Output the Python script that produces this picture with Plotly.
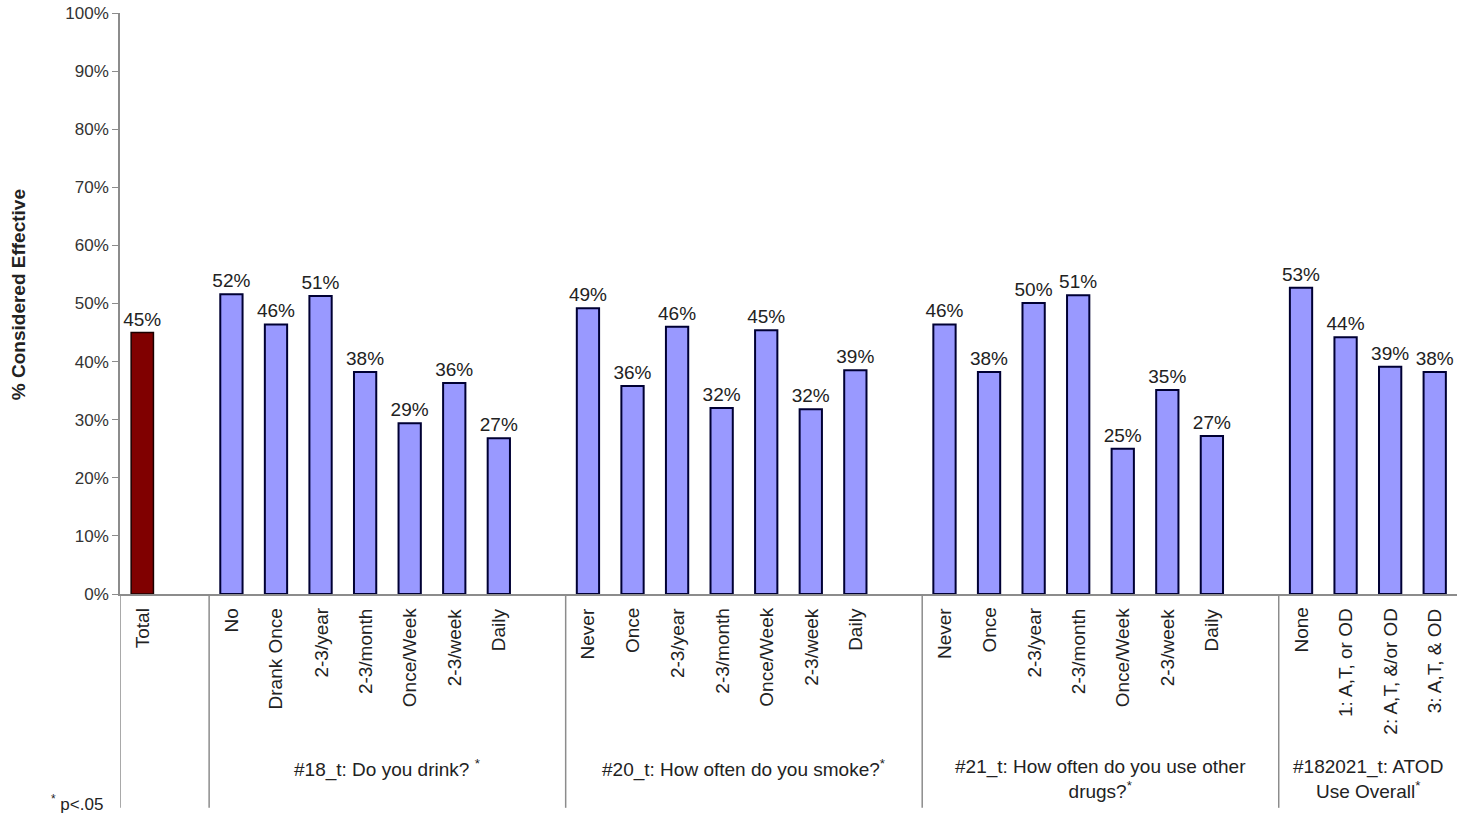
import plotly.graph_objects as go

# ---- data ----
total_label = ["Total"]
total_value = [45.0]

drink_cats = ["No", "Drank Once", "2-3/year", "2-3/month", "Once/Week", "2-3/week", "Daily"]
drink_vals = [51.6, 46.4, 51.3, 38.2, 29.4, 36.3, 26.8]

smoke_cats = ["Never", "Once", "2-3/year", "2-3/month", "Once/Week", "2-3/week", "Daily"]
smoke_vals = [49.2, 35.8, 46.0, 32.0, 45.4, 31.8, 38.5]

drugs_cats = ["Never", "Once", "2-3/year", "2-3/month", "Once/Week", "2-3/week", "Daily"]
drugs_vals = [46.4, 38.2, 50.1, 51.4, 25.0, 35.1, 27.2]

atod_cats = ["None", "1: A,T, or OD", "2: A,T, &/or OD", "3: A,T, & OD"]
atod_vals = [52.7, 44.2, 39.1, 38.2]

group_titles = [
    "#18_t: Do you drink? <sup>*</sup>",
    "#20_t: How often do you smoke?<sup>*</sup>",
    "#21_t: How often do you use other<br>drugs?<sup>*</sup>",
    "#182021_t: ATOD<br>Use Overall<sup>*</sup>",
]

y_ticks = list(range(0, 101, 10))
y_tick_text = [f"{v}%" for v in y_ticks]

# ---- layout of slots (one empty slot after each group) ----
groups = [(drink_cats, drink_vals), (smoke_cats, smoke_vals),
          (drugs_cats, drugs_vals), (atod_cats, atod_vals)]

FONT = "Liberation Sans, Arial, sans-serif"
TXT = "#222222"

total_x = [0]
pos = 2
group_x = []
boundaries = [-0.5, 1.5]
for cats, vals in groups:
    xs = list(range(pos, pos + len(cats)))
    group_x.append(xs)
    pos += len(cats) + 1
    boundaries.append(pos - 0.5)
boundaries[-1] = boundaries[-1] - 1  # last group has no trailing gap
n_slots = pos - 1

fig = go.Figure()

fig.add_trace(go.Bar(
    x=total_x, y=total_value, width=0.5,
    marker=dict(color="#800000", line=dict(color="#1a0000", width=1.5)),
    texttemplate="%{y:.0f}%", textposition="outside", cliponaxis=False,
    constraintext="none",
    textfont=dict(family=FONT, size=19, color=TXT),
    showlegend=False, hoverinfo="skip",
))

all_x, all_y = [], []
for (cats, vals), xs in zip(groups, group_x):
    all_x += xs
    all_y += vals

fig.add_trace(go.Bar(
    x=all_x, y=all_y, width=0.5,
    marker=dict(color="#9999FF", line=dict(color="#000033", width=2)),
    texttemplate="%{y:.0f}%", textposition="outside", cliponaxis=False,
    constraintext="none",
    textfont=dict(family=FONT, size=19, color=TXT),
    showlegend=False, hoverinfo="skip",
))

annotations = []
# category labels
cat_pairs = [(total_x[0], total_label[0])]
for (cats, vals), xs in zip(groups, group_x):
    cat_pairs += list(zip(xs, cats))
for x, lab in cat_pairs:
    annotations.append(dict(
        x=x, y=0, xref="x", yref="paper", text=lab, textangle=-90,
        showarrow=False, xanchor="center", yanchor="top", yshift=-12,
        font=dict(family=FONT, size=19, color=TXT),
    ))

# group titles
for i, title in enumerate(group_titles):
    left = boundaries[i + 1]
    right = boundaries[i + 2] if i + 2 < len(boundaries) else n_slots - 0.5
    annotations.append(dict(
        x=(left + right) / 2, y=0, xref="x", yref="paper", text=title,
        showarrow=False, xanchor="center", yanchor="top", yshift=-160,
        align="center",
        font=dict(family=FONT, size=19, color=TXT),
    ))

# footnote
annotations.append(dict(
    x=-0.011, y=0, xref="paper", yref="paper", text="<sup>*</sup> p<.05",
    showarrow=False, xanchor="right", yanchor="middle", yshift=-209,
    font=dict(family=FONT, size=17, color=TXT),
))

# y title
annotations.append(dict(
    x=-0.076, y=0.515, xref="paper", yref="paper", text="<b>% Considered Effective</b>",
    textangle=-90, showarrow=False, xanchor="center", yanchor="middle",
    font=dict(family=FONT, size=19, color=TXT),
))

shapes = []
for b in boundaries[:-1]:
    shapes.append(dict(type="line", xref="x", yref="paper", x0=b, x1=b,
                       y0=0, y1=-0.368, line=dict(color="#8c8c8c", width=1.5)))

fig.update_layout(
    width=1459, height=817,
    margin=dict(l=120, r=2, t=13, b=223),
    paper_bgcolor="white", plot_bgcolor="white",
    bargap=0.5,
    xaxis=dict(range=[-0.5, n_slots - 0.5], showticklabels=False, showgrid=False,
               zeroline=False, showline=True, linecolor="#8c8c8c", linewidth=1.5,
               ticks=""),
    yaxis=dict(range=[0, 100], tickvals=y_ticks, ticktext=y_tick_text,
               showgrid=False, zeroline=False, showline=True, linecolor="#8c8c8c",
               linewidth=1.5, ticks="outside", ticklen=6, tickcolor="#8c8c8c",
               tickfont=dict(family=FONT, size=17, color="#333333")),
    annotations=annotations,
    shapes=shapes,
)

fig.write_html("out.html", config={"displayModeBar": False},
               post_script="document.body.style.margin='0px';document.body.style.overflow='hidden';")
